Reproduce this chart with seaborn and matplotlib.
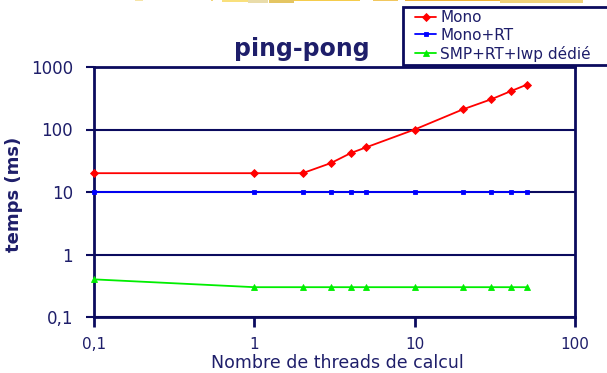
import numpy as np
import pandas as pd
import matplotlib
matplotlib.use("Agg")
import matplotlib.pyplot as plt
from matplotlib.patches import Rectangle
import seaborn as sns

# Number of compute threads (x) for every measurement
threads = [0.1, 1, 2, 3, 4, 5, 10, 20, 30, 40, 50]

# Ping-pong latency in ms for each configuration
mono = [20, 20, 20, 29, 42, 52, 100, 210, 304, 413, 521]
mono_rt = [10, 10, 10, 10, 10, 10, 10, 10, 10, 10, 10]
smp_rt_lwp = [0.4, 0.3, 0.3, 0.3, 0.3, 0.3, 0.3, 0.3, 0.3, 0.3, 0.3]

series_names = ["Mono", "Mono+RT", "SMP+RT+lwp dédié"]

x_ticks = [0.1, 1, 10, 100]
x_tick_labels = ["0,1", "1", "10", "100"]
y_ticks = [0.1, 1, 10, 100, 1000]
y_tick_labels = ["0,1", "1", "10", "100", "1000"]

df = pd.DataFrame({
    "threads": threads * 3,
    "temps": mono + mono_rt + smp_rt_lwp,
    "config": [n for n in series_names for _ in threads],
})

sns.set_theme(style="white")
plt.rcParams["font.family"] = ["DejaVu Sans"]

NAVY = "#0b0b5e"
TEXT = "#1e1e6a"

W, H = 607, 373
fig = plt.figure(figsize=(W / 100, H / 100), dpi=100)
fig.patch.set_facecolor("white")


def px(x0, y0, x1, y1):
    """Pixel box (top-left origin) -> figure fraction rect."""
    return [x0 / W, 1 - y1 / H, (x1 - x0) / W, (y1 - y0) / H]


ax = fig.add_axes(px(94, 67, 575, 317))
ax.set_facecolor("white")

styles = {
    "Mono": dict(color="#ff0000", marker="D", markersize=4.5),
    "Mono+RT": dict(color="#0000ff", marker="s", markersize=3.5),
    "SMP+RT+lwp dédié": dict(color="#00ee00", marker="^", markersize=5),
}

for name in series_names:
    st = styles[name]
    sns.lineplot(
        data=df[df["config"] == name], x="threads", y="temps",
        color=st["color"], marker=st["marker"], markersize=st["markersize"],
        markeredgewidth=0.6, markeredgecolor=st["color"],
        linewidth=1.3, label=name, ax=ax, clip_on=False, zorder=5,
    )

ax.set_xscale("log")
ax.set_yscale("log")
ax.set_xlim(0.1, 100)
ax.set_ylim(0.1, 1000)
ax.set_xticks(x_ticks)
ax.set_xticklabels(x_tick_labels)
ax.set_yticks(y_ticks)
ax.set_yticklabels(y_tick_labels)
ax.minorticks_off()
ax.set_xlabel("")
ax.set_ylabel("")

# horizontal grid at each decade
ax.yaxis.grid(True, color=NAVY, linewidth=1.5)
ax.xaxis.grid(False)
ax.set_axisbelow(True)

for sp in ax.spines.values():
    sp.set_visible(True)
    sp.set_color(NAVY)
    sp.set_linewidth(2)

ax.tick_params(axis="x", direction="out", length=7, width=2, color=NAVY,
               labelsize=11, labelcolor=TEXT, pad=7.5, bottom=True)
ax.tick_params(axis="y", direction="out", length=6, width=1.5, color=NAVY,
               labelsize=12, labelcolor=TEXT, pad=9, left=True)

handles, labels = ax.get_legend_handles_labels()
ax.get_legend().remove()

# titles and axis labels
fig.text(302 / W, 1 - 49 / H, "ping-pong", ha="center", va="center",
         fontsize=17, fontweight="bold", color=TEXT)
fig.text(14 / W, 1 - 194 / H, "temps (ms)", ha="center", va="center",
         rotation=90, fontsize=13, fontweight="bold", color=TEXT)
fig.text(337 / W, 1 - 363 / H, "Nombre de threads de calcul", ha="center",
         va="center", fontsize=12.5, color=TEXT)

# legend box, running off the right edge of the page
box = Rectangle((403 / W, 1 - 65 / H), 220 / W, 58 / H,
                transform=fig.transFigure, facecolor="white",
                edgecolor=NAVY, linewidth=2, zorder=3)
fig.patches.append(box)
leg = fig.legend(handles, labels, loc="upper left",
                 bbox_to_anchor=(415 / W, 1 - 10 / H), frameon=False,
                 fontsize=11, handlelength=1.4, handletextpad=0.25,
                 labelspacing=0.18, borderpad=0, borderaxespad=0)
for t in leg.get_texts():
    t.set_color(TEXT)
leg.set_zorder(4)

# thin golden strip along the top edge
strip = [
    (135, 143, 1, "#f6e4a6"), (211, 213, 1, "#f2d478"),
    (222, 248, 2, "#f9e07c"), (248, 268, 3, "#e9dcaa"),
    (269, 294, 3, "#e4c562"), (294, 360, 1, "#f5cc4c"),
    (373, 398, 1, "#f1c75e"), (405, 500, 1, "#efb236"),
    (500, 583, 3, "#f0d27a"),
]
for x0, x1, h, c in strip:
    fig.patches.append(Rectangle((x0 / W, 1 - h / H), (x1 - x0) / W, h / H,
                                 transform=fig.transFigure, facecolor=c,
                                 edgecolor="none", zorder=1))

fig.savefig("out.png", dpi=100, facecolor="white")
